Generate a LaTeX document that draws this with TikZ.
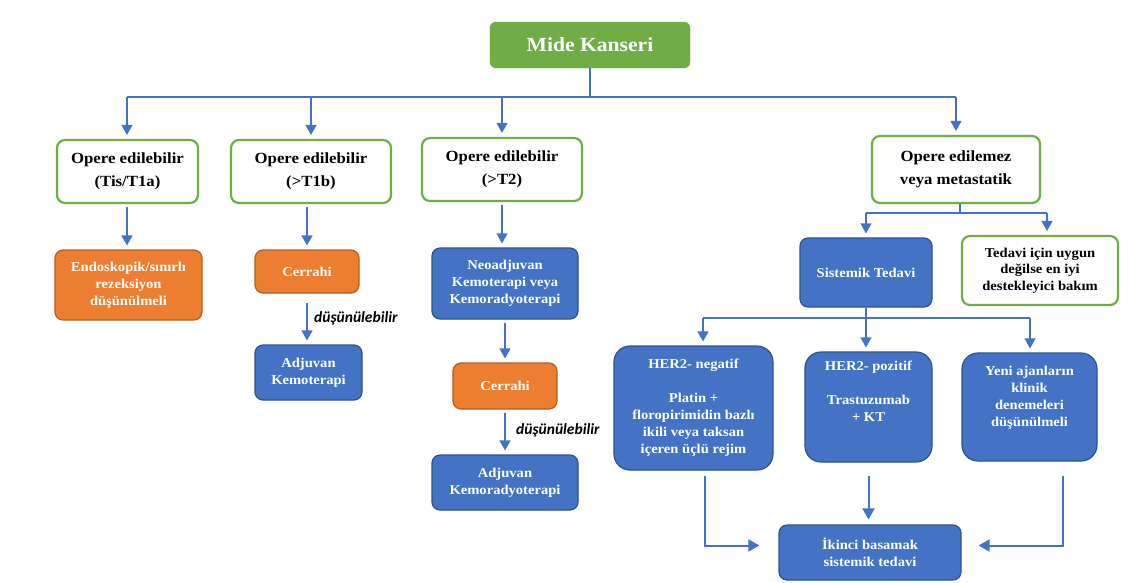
\documentclass[tikz,border=0pt]{standalone}
\usepackage{fontspec}
\setmainfont{Liberation Serif}[FakeStretch=1.08]
\newfontfamily\calfont{Carlito}
\usetikzlibrary{arrows.meta}
\definecolor{cgreen}{HTML}{70AD47}
\definecolor{corange}{HTML}{ED7D31}
\definecolor{corangeb}{HTML}{B0601F}
\definecolor{cblue}{HTML}{4472C4}
\definecolor{cblueb}{HTML}{2F528F}
\begin{document}
\begin{tikzpicture}[x=1pt,y=-1pt,
  gbox/.style={draw=cgreen, line width=2.2pt, fill=white, rounded corners=8pt, align=center,
    font=\bfseries\fontsize{15.5}{23}\selectfont, inner sep=0pt},
  obox/.style={draw=corangeb, line width=1.2pt, fill=corange, rounded corners=8pt, align=center,
    text=white, font=\bfseries\fontsize{13.5}{17}\selectfont, inner sep=0pt},
  bbox/.style={draw=cblueb, line width=1.2pt, fill=cblue, rounded corners=8pt, align=center,
    text=white, font=\bfseries\fontsize{13.5}{17}\selectfont, inner sep=0pt},
  arr/.style={draw=cblue, line width=1.2pt, -{Triangle[width=11pt,length=10pt]}, shorten >=4pt, shorten <=3pt},
  arrb/.style={draw=cblue, line width=2pt, -{Triangle[width=12pt,length=11pt]}},
  bus/.style={draw=cblue, line width=2.6pt},
  conn/.style={draw=cblue, line width=1.5pt},
  lbl/.style={font=\calfont\bfseries\itshape\fontsize{15.5}{17}\selectfont, anchor=west, inner sep=0pt}
]
\useasboundingbox (0,0) rectangle (1129,582);
\fill[white] (0,0) rectangle (1129,582);

% top
\node[draw=cgreen, fill=cgreen, rounded corners=6pt, minimum width=200pt, minimum height=46pt,
  text=white, font=\bfseries\fontsize{20}{22}\selectfont, inner sep=0pt] (mide) at (590,45) {Mide Kanseri};

\node[gbox, minimum width=141pt, minimum height=63pt] (b1) at (127.5,171.5) {Opere edilebilir\\(Tis/T1a)};
\node[gbox, minimum width=160pt, minimum height=63pt] (b2) at (311,171.5) {Opere edilebilir\\(>T1b)};
\node[gbox, minimum width=160pt, minimum height=63pt] (b3) at (502,169.5) {Opere edilebilir\\(>T2)};
\node[gbox, minimum width=168pt, minimum height=67pt] (b4) at (956,169.5) {Opere edilemez\\veya metastatik};

\node[obox, minimum width=147pt, minimum height=70pt] (endo) at (128.5,285) {Endoskopik/sınırlı\\rezeksiyon\\düşünülmeli};
\node[obox, minimum width=104pt, minimum height=43pt] (cer1) at (307,271.5) {Cerrahi};
\node[bbox, minimum width=107pt, minimum height=55pt] (adj1) at (308.5,372.5) {Adjuvan\\Kemoterapi};

\node[bbox, minimum width=146pt, minimum height=71pt] (neo) at (505,283.5) {Neoadjuvan\\Kemoterapi veya\\Kemoradyoterapi};
\node[obox, minimum width=104pt, minimum height=46pt] (cer2) at (505,386) {Cerrahi};
\node[bbox, minimum width=146pt, minimum height=55pt] (adj2) at (505,482.5) {Adjuvan\\Kemoradyoterapi};

\node[bbox, minimum width=132pt, minimum height=69pt] (sis) at (866,272.5) {Sistemik Tedavi};
\node[gbox, minimum width=156pt, minimum height=69pt, font=\bfseries\fontsize{13.5}{16.5}\selectfont] (ted) at (1040,270.5) {Tedavi için uygun\\değilse en iyi\\destekleyici bakım};

\node[bbox, minimum width=159pt, minimum height=124pt, rounded corners=16pt] (her2n) at (693.5,408) {HER2- negatif\\[17pt]Platin +\\floropirimidin bazlı\\ikili veya taksan\\içeren üçlü rejim};
\node[bbox, minimum width=127pt, minimum height=110pt, rounded corners=16pt] (her2p) at (868.5,407) {HER2- pozitif\\[17pt]Trastuzumab\\+ KT\\[14pt]};
\node[bbox, minimum width=135pt, minimum height=108pt, rounded corners=16pt] (yeni) at (1029.5,407) {Yeni ajanların\\klinik\\denemeleri\\düşünülmeli\\[4pt]};
\node[bbox, minimum width=182pt, minimum height=55pt] (ikinci) at (870,552.5) {İkinci basamak\\sistemik tedavi};

% first bus
\coordinate (busc) at (590,97);
\coordinate (busL) at (127,97);
\coordinate (busR) at (956,97);
\draw[conn] (mide.south) -- (busc);
\draw[bus] (busL) -- (busR);
\draw[arr, shorten <=0pt] (busL) -- (busL |- b1.north);
\draw[arr, shorten <=0pt] (b2.north |- busL) -- (b2.north);
\draw[arr, shorten <=0pt] (b3.north |- busL) -- (b3.north);
\draw[arr, shorten <=0pt] (busR) -- (b4.north);

% left columns
\draw[arr] (busL |- b1.south) -- (busL |- endo.north);
\draw[arr] (cer1.south |- b2.south) -- (cer1.north);
\draw[arr, shorten <=9pt] (cer1.south) -- (cer1.south |- adj1.north);
\node[lbl] (d1) at (314,318) {düşünülebilir};
\draw[arr] (b3.south) -- (b3.south |- neo.north);
\draw[arr] (neo.south) -- (cer2.north);
\draw[arr] (cer2.south) -- (adj2.north);
\node[lbl] (d2) at (516,430) {düşünülebilir};

% second bus
\coordinate (bus2c) at (960,213);
\coordinate (bus2L) at (866,213);
\coordinate (bus2R) at (1047,213);
\draw[conn] (bus2c |- b4.south) -- (bus2c);
\draw[bus] (bus2L) -- (bus2R);
\draw[arr, shorten <=0pt] (bus2L) -- (sis.north);
\draw[arr, shorten <=0pt] (bus2R) -- (bus2R |- ted.north);

% third bus
\coordinate (bus3c) at (866,318);
\coordinate (bus3L) at (703,318);
\coordinate (bus3R) at (1030,318);
\draw[conn] (sis.south) -- (bus3c);
\draw[bus] (bus3L) -- (bus3R);
\draw[arr, shorten <=0pt] (bus3L) -- (bus3L |- her2n.north);
\draw[arr, shorten <=0pt] (bus3c) -- (bus3c |- her2p.north);
\draw[arr, shorten <=0pt] (bus3R) -- (bus3R |- yeni.north);

% bottom
\draw[arrb, shorten <=5pt, shorten >=19pt] ([xshift=11.5pt]her2n.south) |- ([yshift=7pt]ikinci.west);
\draw[arrb, shorten <=13pt, shorten >=5pt] (her2p.south) -- (her2p.south |- ikinci.north);
\draw[arrb, shorten <=14pt, shorten >=17pt] ([xshift=33.5pt]yeni.south) |- ([yshift=7pt]ikinci.east);
\end{tikzpicture}
\end{document}
